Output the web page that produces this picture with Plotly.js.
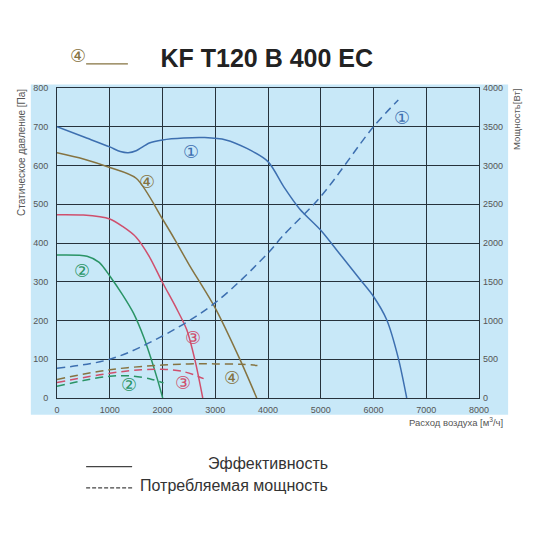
<!DOCTYPE html>
<html>
<head>
<meta charset="utf-8">
<script src="https://cdn.plot.ly/plotly-3.0.1.min.js"></script>
<style>
  body { margin: 0; background: #fff; }
  #chart { width: 550px; height: 550px; }
</style>
</head>
<body>
<div id="chart"></div>
<script>
// pressure curves (m3/h -> Pa)
let flow1 = [0, 500, 1000, 1200, 1350, 1500, 1750, 2000, 2400, 2800, 3200, 3600, 4000, 4300, 4600, 5000, 5400, 5750, 6000, 6250, 6470, 6630];
let pres1 = [700, 674, 648, 636, 633, 638, 658, 666, 671, 672, 666, 644, 610, 545, 488, 433, 365, 305, 262, 202, 103, 0];

let flow2 = [0, 570, 800, 1000, 1250, 1450, 1650, 1770, 1900, 2004];
let pres2 = [369, 366, 350, 315, 265, 219, 155, 107, 50, 0];

let flow3 = [0, 500, 1000, 1250, 1500, 1750, 2000, 2250, 2460, 2620, 2763];
let pres3 = [473, 472, 462, 442, 415, 365, 298, 235, 176, 95, 0];

let flow4 = [0, 500, 1000, 1500, 2000, 2250, 2500, 3000, 3470, 3787];
let pres4 = [633, 617, 595, 567, 462, 405, 345, 232, 99, 0];

// power curves (m3/h -> W)
let pflow1 = [0, 1000, 2000, 3000, 4000, 4265, 5000, 6000, 6470];
let power1 = [385, 500, 800, 1230, 1870, 2080, 2600, 3500, 3845];

let pflow2 = [0, 500, 1000, 1400, 1800, 2020];
let power2 = [150, 225, 280, 285, 240, 195];

let pflow3 = [0, 1000, 1600, 2000, 2400, 2780];
let power3 = [200, 320, 365, 370, 340, 250];

let pflow4 = [0, 1000, 2000, 2500, 3000, 3500, 3800];
let power4 = [240, 365, 425, 440, 440, 435, 420];

let xTicks = [0, 1000, 2000, 3000, 4000, 5000, 6000, 7000, 8000];
let yTicks = [0, 100, 200, 300, 400, 500, 600, 700, 800];
let y2Ticks = [0, 500, 1000, 1500, 2000, 2500, 3000, 3500, 4000];

let blue = '#3d6fb0';
let green = '#2a9466';
let red = '#cf4f6d';
let olive = '#857341';
let font = 'Liberation Sans, Arial, sans-serif';
let dash = '8px,5px';

function solid(x, y, color) {
  return {x: x, y: y, type: 'scatter', mode: 'lines', line: {color: color, width: 1.5, shape: 'spline', smoothing: 0.8}, hoverinfo: 'skip'};
}
function dashed(x, y, color) {
  return {x: x, y: y, yaxis: 'y2', type: 'scatter', mode: 'lines', line: {color: color, width: 1.5, dash: dash, shape: 'spline'}, hoverinfo: 'skip'};
}

let data = [
  solid(flow1, pres1, blue),
  solid(flow2, pres2, green),
  solid(flow3, pres3, red),
  solid(flow4, pres4, olive),
  dashed(pflow1, power1, blue),
  dashed(pflow2, power2, green),
  dashed(pflow3, power3, red),
  dashed(pflow4, power4, olive)
];

function mark(text, x, y, color) {
  return {text: text, x: x, y: y, xref: 'x', yref: 'y', showarrow: false,
    font: {family: 'DejaVu Sans', size: 18, color: color}};
}

let annotations = [
  mark('\u2460', 2540, 637, blue),
  mark('\u2460', 6540, 725, blue),
  mark('\u2463', 1706, 560, olive),
  mark('\u2461', 478, 330, green),
  mark('\u2462', 2580, 155, red),
  mark('\u2461', 1370, 34, green),
  mark('\u2462', 2390, 39, red),
  mark('\u2463', 3320, 52, olive),
  {text: '\u2463', xref: 'paper', yref: 'paper', x: 0.05, y: 1.105, xanchor: 'center', yanchor: 'middle',
    showarrow: false, font: {family: 'DejaVu Sans', size: 18, color: olive}},
  {text: 'Статическое давление [Па]', xref: 'paper', yref: 'paper', x: -0.083, y: 1.005,
    xanchor: 'center', yanchor: 'top', textangle: -90, showarrow: false,
    font: {family: font, size: 10, color: '#555'}},
  {text: 'Мощность[Вт]', xref: 'paper', yref: 'paper', x: 1.09, y: 1.005,
    xanchor: 'center', yanchor: 'top', textangle: -90, showarrow: false,
    font: {family: font, size: 9.5, color: '#555'}},
  {text: 'Расход воздуха [м<sup>3</sup>/ч]', xref: 'paper', yref: 'paper', x: 1.062, y: -0.05,
    xanchor: 'right', yanchor: 'top', showarrow: false,
    font: {family: font, size: 9.5, color: '#555'}},
  {text: 'Эффективность', xref: 'paper', yref: 'paper', x: 0.647, y: -0.212,
    xanchor: 'right', yanchor: 'middle', showarrow: false,
    font: {family: font, size: 16, color: '#333'}},
  {text: 'Потребляемая мощность', xref: 'paper', yref: 'paper', x: 0.647, y: -0.283,
    xanchor: 'right', yanchor: 'middle', showarrow: false,
    font: {family: font, size: 16, color: '#333'}}
];

let shapes = [
  {type: 'rect', xref: 'paper', yref: 'paper', x0: -0.062, x1: 1.069, y0: -0.054, y1: 1.011,
    fillcolor: '#c8e8f8', line: {width: 0}, layer: 'below'},
  {type: 'line', xref: 'paper', yref: 'paper', x0: 0.069, x1: 0.168, y0: 1.078, y1: 1.078,
    line: {color: olive, width: 1.3}},
  {type: 'line', xref: 'paper', yref: 'paper', x0: 0.069, x1: 0.178, y0: -0.2216, y1: -0.2216,
    line: {color: '#444', width: 1.3}},
  {type: 'line', xref: 'paper', yref: 'paper', x0: 0.069, x1: 0.178, y0: -0.29, y1: -0.29,
    line: {color: '#444', width: 1.3, dash: '4px,2px'}}
];

let gridColor = '#26323c';
let tickFont = {family: font, size: 9, color: '#555'};

let layout = {
  width: 550, height: 550,
  margin: {l: 57, r: 71, t: 88, b: 152},
  paper_bgcolor: '#fff',
  plot_bgcolor: '#c8e8f8',
  showlegend: false,
  title: {text: '<b>KF T120 B 400 EC</b>', x: 0.485, xanchor: 'center', y: 0.895, yanchor: 'middle',
    font: {family: font, size: 25, color: '#222'}},
  xaxis: {range: [0, 8000], tickvals: xTicks, ticktext: xTicks.map(String), tickfont: tickFont,
    showgrid: true, gridcolor: gridColor, gridwidth: 1, zeroline: false, ticklabelstandoff: 3,
    showline: true, mirror: true, linecolor: gridColor, linewidth: 1, ticks: '', fixedrange: true},
  yaxis: {range: [0, 800], tickvals: yTicks, ticktext: yTicks.map(String), tickfont: tickFont,
    showgrid: true, gridcolor: gridColor, gridwidth: 1, zeroline: false, ticklabelstandoff: 6,
    showline: true, mirror: true, linecolor: gridColor, linewidth: 1, ticks: '', fixedrange: true},
  yaxis2: {range: [0, 4000], overlaying: 'y', side: 'right', tickvals: y2Ticks, ticktext: y2Ticks.map(String),
    tickfont: tickFont, showgrid: false, zeroline: false, ticks: '', ticklabelstandoff: 3, fixedrange: true},
  annotations: annotations,
  shapes: shapes
};

Plotly.newPlot('chart', data, layout, {displayModeBar: false, staticPlot: true});
</script>
</body>
</html>
